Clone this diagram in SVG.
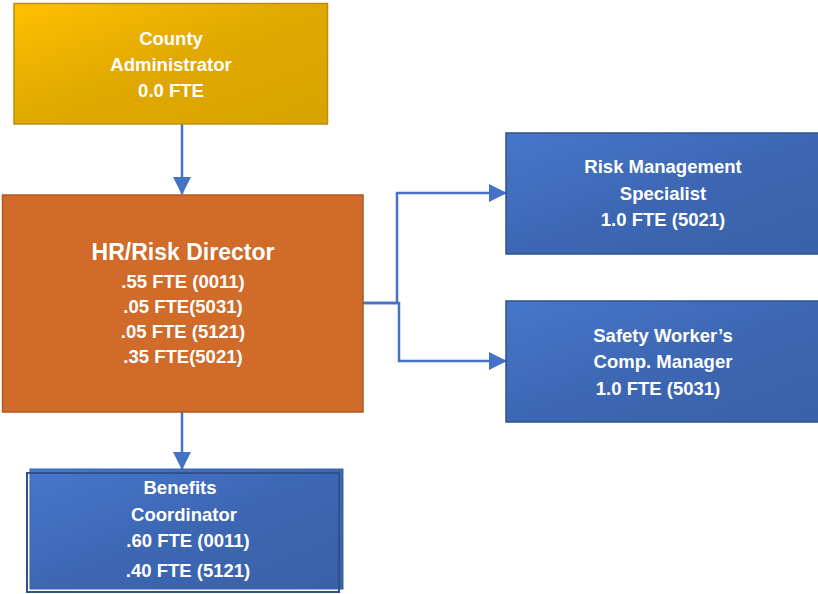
<svg xmlns="http://www.w3.org/2000/svg" width="818" height="594" viewBox="0 0 818 594">
  <defs>
    <linearGradient id="gold" x1="0" y1="0" x2="1" y2="1">
      <stop offset="0" stop-color="#FFC000"/>
      <stop offset="0.5" stop-color="#E0A800"/>
      <stop offset="1" stop-color="#D9A400"/>
    </linearGradient>
    <linearGradient id="blue" x1="0" y1="0" x2="1" y2="1">
      <stop offset="0" stop-color="#4677CB"/>
      <stop offset="0.5" stop-color="#3D67B3"/>
      <stop offset="1" stop-color="#3961A8"/>
    </linearGradient>
    <marker id="arrow" viewBox="0 0 18 18" refX="17" refY="9" markerWidth="18" markerHeight="18" markerUnits="userSpaceOnUse" orient="auto">
      <path d="M0,0 L18,9 L0,18 Z" fill="#4472C4"/>
    </marker>
    <style>
      .lbl { font-family: "Liberation Sans", Arial, sans-serif; font-weight: bold; fill: #FFFFFF; text-anchor: middle; font-size: 18.5px; }
      .big { font-size: 23px; }
      .conn { fill: none; stroke: #4472C4; stroke-width: 2.5; }
      .bluebox { fill: url(#blue); stroke: #2F528F; stroke-width: 1.5; }
    </style>
  </defs>

  <g id="connectors">
    <path class="conn" d="M182,124 V194" marker-end="url(#arrow)"/>
    <path class="conn" d="M363,303 H397 V193 H506" marker-end="url(#arrow)"/>
    <path class="conn" d="M363,303 H399 V361 H506" marker-end="url(#arrow)"/>
    <path class="conn" d="M182,412 V469" marker-end="url(#arrow)"/>
  </g>

  <g id="county-administrator">
    <rect x="14" y="3.5" width="313.5" height="120.5" fill="url(#gold)" stroke="#B8900C" stroke-width="1.5"/>
    <text class="lbl" x="171" y="45">County</text>
    <text class="lbl" x="171" y="71">Administrator</text>
    <text class="lbl" x="171" y="97">0.0 FTE</text>
  </g>

  <g id="hr-risk-director">
    <rect x="2.5" y="195" width="360.5" height="217" fill="#D06B2A" stroke="#AE5A21" stroke-width="1.5"/>
    <text class="lbl big" x="183" y="260">HR/Risk Director</text>
    <text class="lbl" x="183" y="288">.55 FTE (0011)</text>
    <text class="lbl" x="183" y="313">.05 FTE(5031)</text>
    <text class="lbl" x="183" y="338">.05 FTE (5121)</text>
    <text class="lbl" x="183" y="363">.35 FTE(5021)</text>
  </g>

  <g id="risk-management-specialist">
    <rect class="bluebox" x="506" y="133" width="320" height="121"/>
    <text class="lbl" x="663" y="173">Risk Management</text>
    <text class="lbl" x="663" y="200">Specialist</text>
    <text class="lbl" x="663" y="226">1.0 FTE (5021)</text>
  </g>

  <g id="safety-workers-comp-manager">
    <rect class="bluebox" x="506" y="301" width="320" height="121"/>
    <text class="lbl" x="663" y="342">Safety Worker’s</text>
    <text class="lbl" x="663" y="368">Comp. Manager</text>
    <text class="lbl" x="658" y="395">1.0 FTE (5031)</text>
  </g>

  <g id="benefits-coordinator">
    <rect x="30" y="469" width="313" height="120" fill="url(#blue)" stroke="#3A62A8" stroke-width="1"/>
    <rect x="27" y="473" width="312" height="119" fill="none" stroke="#2F528F" stroke-width="2"/>
    <text class="lbl" x="180" y="494">Benefits</text>
    <text class="lbl" x="184" y="521">Coordinator</text>
    <text class="lbl" x="188" y="547">.60 FTE (0011)</text>
    <text class="lbl" x="188" y="577">.40 FTE (5121)</text>
  </g>
</svg>
